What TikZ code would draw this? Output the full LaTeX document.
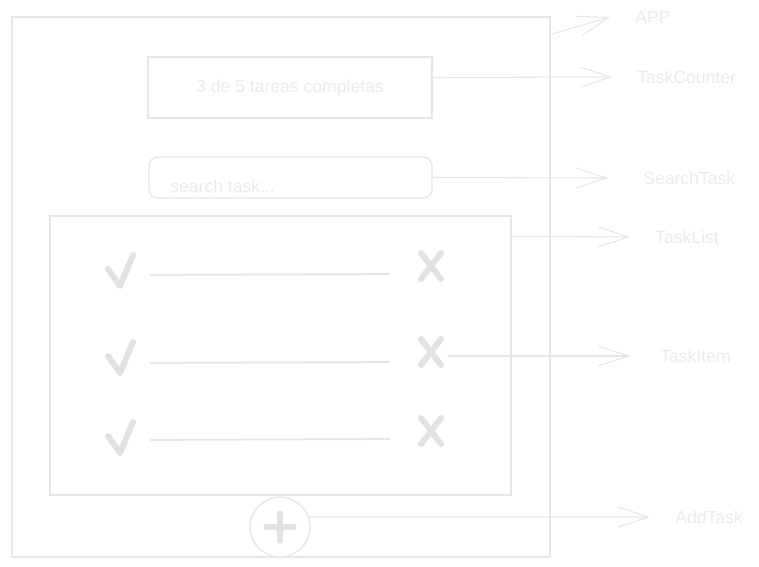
\documentclass[tikz,border=0pt]{standalone}
\usepackage{fontspec}
\setmainfont{Liberation Sans}
\usetikzlibrary{arrows.meta,positioning}
\definecolor{sketch}{HTML}{E6E6E6}
\definecolor{marks}{HTML}{E2E2E2}
\definecolor{faint}{HTML}{EBEBEB}

\begin{document}
\begin{tikzpicture}[x=0.02cm, y=-0.02cm, node distance=5mm,
  every node/.style={font=\fontsize{10}{12}\selectfont, text=faint},
  box/.style={draw=sketch, line width=0.8pt, inner sep=0pt},
  lbl/.style={anchor=west, inner sep=0pt},
  tick/.style={draw=marks, line width=3.4pt, line cap=round, line join=round},
  rule/.style={draw=sketch, line width=1pt},
  arr/.style={draw=sketch, line width=0.6pt, -{Straight Barb[length=6mm, width=4mm]}}]
\useasboundingbox (0,0) rectangle (759,566);
% frames
\node[box, minimum width=10.76cm, minimum height=10.8cm] (app) at (281,287) {};
\node[box, minimum width=5.68cm, minimum height=1.22cm] (counter) at (290,87.5) {3 de 5 tareas completas};
\node[box, rounded corners=5pt, minimum width=5.66cm, minimum height=0.82cm] (search) at (290.5,177.5) {};
\node[lbl] (searchtxt) at (170,186) {search task...};
\node[box, minimum width=9.22cm, minimum height=5.58cm] (list) at (280.5,355.5) {};
\node[box, circle, minimum size=1.2cm] (plus) at (280,527) {};
\draw[tick, line width=3pt] (plus.center) ++(-14,0) -- ++(28,0);
\draw[tick, line width=3pt] (plus.center) ++(0,-14) -- ++(0,28);
% items
\foreach \c/\xc/\l/\n in {270/266/275/1, 357/352/363/2, 437/431/440/3} {
  \draw[tick] (108,{\c-1}) -- (120,{\c+16}) -- (133,{\c-15});
  \draw[rule] (150,\l) -- (390,{\l-1});
  \draw[tick] (421,{\xc-13}) -- (441,{\xc+13});
  \draw[tick] (441,{\xc-13}) -- (421,{\xc+13});
  \coordinate (item\n) at (448,{\xc+4});
}
% tips and labels
\coordinate (tApp) at (610,17);
\coordinate (tCounter) at (612,77);
\coordinate (tSearch) at (608,178);
\coordinate (tList) at (630,237);
\coordinate (tItem) at (630,356);
\coordinate (tAdd) at (650,517);
\node[lbl, right=of tApp] (lapp) {APP};
\node[lbl, right=of tCounter] (lcounter) {TaskCounter};
\node[lbl, right=7mm of tSearch] (lsearch) {SearchTask};
\node[lbl, right=of tList] (llist) {TaskList};
\node[lbl, right=6mm of tItem] (litem) {TaskItem};
\node[lbl, right=of tAdd] (ladd) {AddTask};
\draw[arr] ([yshift=-0.36cm]app.north east) -- (tApp);
\draw[arr] ([yshift=0.2cm]counter.east) -- (tCounter);
\draw[arr] (search.east) -- (tSearch);
\draw[arr] ([yshift=-0.42cm]list.north east) -- (tList);
\draw[arr] (item2) -- (tItem);
\draw[arr] (plus.19) -- (tAdd);
\end{tikzpicture}
\end{document}
